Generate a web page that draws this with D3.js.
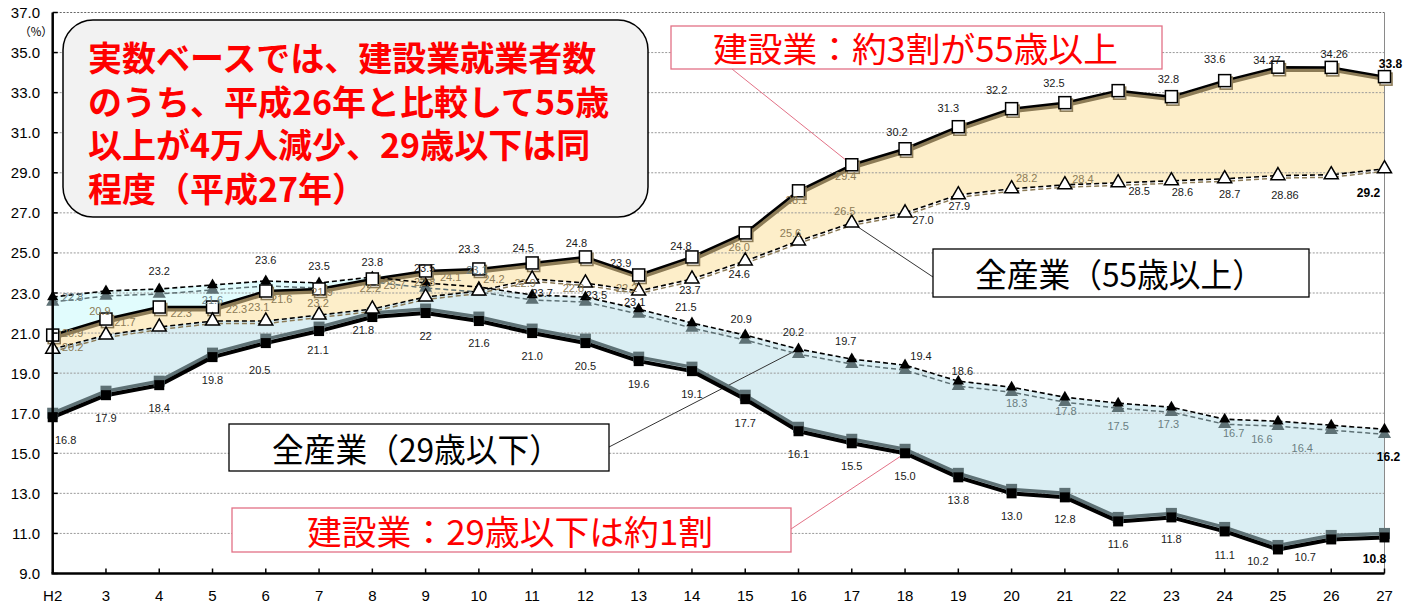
<!DOCTYPE html>
<html>
<head>
<meta charset="utf-8">
<script src="https://cdn.jsdelivr.net/npm/d3@7"></script>
<style>
  html, body { margin: 0; padding: 0; background: #ffffff; }
  svg { display: block; }
</style>
</head>
<body>
<svg id="chart" width="1413" height="606"></svg>
<script>
// ---- data --------------------------------------------------------------
// survey years (Heisei)
const years = ["H2","3","4","5","6","7","8","9","10","11","12","13","14",
               "15","16","17","18","19","20","21","22","23","24","25","26","27"];

// share of workers aged 55 and over, construction (%)
const cons55 = [20.9, 21.7, 22.3, 22.3, 23.1, 23.2, 23.7, 24.1, 24.2, 24.5, 24.8, 23.9, 24.8,
                26.0, 28.1, 29.4, 30.2, 31.3, 32.2, 32.5, 33.1, 32.8, 33.6, 34.27, 34.26, 33.8];

// share of workers aged 55 and over, all industries (%)
const all55  = [20.2, 20.9, 21.3, 21.6, 21.6, 21.9, 22.2, 22.8, 23.1, 23.7, 23.5, 23.1, 23.7,
                24.6, 25.6, 26.5, 27.0, 27.9, 28.2, 28.4, 28.5, 28.6, 28.7, 28.86, 28.9, 29.2];

// share of workers aged 29 and under, all industries (%)
const all29  = [22.8, 23.1, 23.2, 23.4, 23.6, 23.5, 23.8, 23.5, 23.3, 22.9, 22.8, 22.2, 21.5,
                20.9, 20.2, 19.7, 19.4, 18.6, 18.3, 17.8, 17.5, 17.3, 16.7, 16.6, 16.4, 16.2];

// share of workers aged 29 and under, construction (%)
const cons29 = [16.8, 17.9, 18.4, 19.8, 20.5, 21.1, 21.8, 22.0, 21.6, 21.0, 20.5, 19.6, 19.1,
                17.7, 16.1, 15.5, 15.0, 13.8, 13.0, 12.8, 11.6, 11.8, 11.1, 10.2, 10.7, 10.8];

const yTicks = [9, 11, 13, 15, 17, 19, 21, 23, 25, 27, 29, 31, 33, 35, 37];

const titleLines = ["実数ベースでは、建設業就業者数",
                    "のうち、平成26年と比較して55歳",
                    "以上が4万人減少、29歳以下は同",
                    "程度（平成27年）"];

// ---- value-label placement: [dx, dy, tone, decimals] ------------------
// tone: k = black, K = bold black, g = grey, b = tan
const cons55Lab = [
  [20,2,"b"],[19,7,"b"],[22,10,"b"],[24,6,"b"],[-7,20,"b"],[-1,18,"b"],[22,10,"b"],[25,10,"b"],[15,14,"b"],
  [-9,-11,"k"],[-9,-10,"k"],[-18,-8,"k"],[-11,-7,"k"],[-6,18,"b"],[-2,13,"b"],[-6,15,"b"],
  [-8,-13,"k"],[-10,-15,"k"],[-15,-15,"k"],[-11,-16,"k"],null,[-3,-14,"k"],[-10,-18,"k"],
  [-11,-3,"k"],[3,-9,"k"],[6,-9,"K"]
];
const all55Lab = [
  [20,2,"b"],[-6,-20,"b"],null,[0,-17,"g"],[16,-18,"b"],[3,-19,"b"],[-2,-17,"b"],[-1,-11,"b"],
  [-2,-17,"g"],[10,18,"k"],[11,16,"k"],[-4,15,"k"],[-2,15,"k"],[-6,17,"k"],[-8,-4,"b"],
  [-7,-8,"b"],[18,11,"k"],[1,15,"k"],[15,-7,"b"],[18,-2,"b"],[21,12,"k"],[11,15,"k"],
  [5,19,"k"],[7,23,"k"],null,[-16,28,"K"]
];
const all29Lab = [
  [20,4,"g"],null,[0,-14,"k"],null,[0,-17,"k"],[0,-13,"k"],[0,-11,"k"],[-1,-11,"k"],
  [-10,-34,"k"],[-7,-8,"b"],[-12,-5,"b"],[-12,-17,"b"],[-6,-12,"k"],[-4,-12,"k"],
  [-5,-13,"k"],[-6,-14,"k"],[16,-5,"k"],[4,-6,"k"],[5,20,"g"],[1,18,"g"],[0,27,"g"],
  [-3,21,"g"],[9,18,"g"],[-16,22,"g"],[-29,27,"g"],[4,32,"K"]
];
const cons29Lab = [
  [13,27,"k"],[0,27,"k"],[0,27,"k"],[0,27,"k"],[-6,31,"k"],[-1,23,"k"],[-9,17,"k"],[0,27,"k",0],
  [0,26,"k"],[0,27,"k"],[0,27,"k"],[0,27,"k"],[0,27,"k"],[0,28,"k"],[0,27,"k"],[0,27,"k"],
  [0,27,"k"],[0,27,"k"],[0,27,"k"],[0,26,"k"],[0,27,"k"],[0,26,"k"],[0,28,"k"],
  [-20,16,"k"],[-26,22,"k"],[-10,26,"K"]
];

// ---- scales ------------------------------------------------------------
const LEFT = 52.7, RIGHT = 1384.5, TOP = 12.5, BOTTOM = 573.5;
const x = d3.scalePoint().domain(years).range([LEFT, RIGHT]);
const y = d3.scaleLinear().domain([9, 37]).range([BOTTOM, TOP]);
const idx = d3.range(years.length);
const X = i => x(years[i]);

const svg = d3.select("#chart");
const NUM_FONT = "'Liberation Sans', Arial, sans-serif";
const JP_FONT = "'Noto Sans CJK JP', 'Noto Sans', sans-serif";

// ---- filled bands ------------------------------------------------------
svg.append("path").datum(idx)
  .attr("d", d3.area().x(X).y0(i => y(cons29[i])).y1(i => y(all29[i])))
  .attr("fill", "#DAEEF3");
svg.append("path").datum(idx)
  .attr("d", d3.area().x(X).y0(i => y(cons55[i])).y1(i => y(Math.max(all29[i], cons55[i]))))
  .attr("fill", "#E1FCFD");
svg.append("path").datum(idx)
  .attr("d", d3.area().x(X).y0(i => y(all55[i])).y1(i => y(cons55[i])))
  .attr("fill", "#FDEEC9");

// ---- grid and frame ----------------------------------------------------
svg.append("g").selectAll("line").data(yTicks.filter(t => t > 9)).join("line")
  .attr("x1", LEFT).attr("x2", RIGHT)
  .attr("y1", d => y(d)).attr("y2", d => y(d))
  .attr("stroke", d => d === 37 ? "#666" : "#999")
  .attr("stroke-width", 1)
  .attr("stroke-dasharray", "2,1.5");
svg.append("line")
  .attr("x1", RIGHT).attr("x2", RIGHT).attr("y1", TOP).attr("y2", BOTTOM)
  .attr("stroke", "#8a8a8a").attr("stroke-width", 1);

// ---- leader lines for the callouts -------------------------------------
const notes = [
  { text: "建設業：約3割が55歳以上", box: [671, 26, 491, 43], tx: 713, tw: 405, size: 34,
    fill: "#FF0000", stroke: "#E27186", series: cons55, at: 15, from: [732, 69] },
  { text: "建設業：29歳以下は約1割", box: [232, 508, 559, 44], tx: 307, tw: 406, size: 34,
    fill: "#FF0000", stroke: "#E27186", series: cons29, at: 16, from: [791, 529] },
  { text: "全産業（29歳以下）", box: [229, 424, 380, 47], tx: 272, tw: 289, size: 33,
    fill: "#000000", stroke: "#000000", series: all29, at: 14, from: [609, 447] },
  { text: "全産業（55歳以上）", box: [933, 249, 376, 48], tx: 975, tw: 289, size: 33,
    fill: "#000000", stroke: "#000000", series: all55, at: 15, from: [933, 277] }
];
svg.append("g").selectAll("line").data(notes).join("line")
  .attr("x1", d => d.from[0]).attr("y1", d => d.from[1])
  .attr("x2", d => X(d.at)).attr("y2", d => y(d.series[d.at]))
  .attr("stroke", d => d.fill === "#FF0000" ? "#E27186" : "#333")
  .attr("stroke-width", 1);

// ---- series lines (offset tinted copy underneath, then main line) ------
function drawLine(arr, opt) {
  svg.append("path").datum(idx)
    .attr("d", d3.line().x(X).y(i => y(arr[i])))
    .attr("transform", `translate(${opt.dx || 0},${opt.dy || 0})`)
    .attr("fill", "none")
    .attr("stroke", opt.color)
    .attr("stroke-width", opt.width)
    .attr("stroke-dasharray", opt.dash || null)
    .attr("stroke-linejoin", "round");
}
drawLine(cons29, { color: "#5E7175", width: 3.5, dy: -4 });
drawLine(all29,  { color: "#5E7175", width: 1.5, dy: 5, dash: "5,3" });
drawLine(cons55, { color: "#8C7B56", width: 4, dx: 1, dy: 2.5 });
drawLine(all55,  { color: "#8C7B56", width: 1.5, dy: 2.5, dash: "5,3" });

drawLine(cons29, { color: "#000", width: 4 });
drawLine(all29,  { color: "#000", width: 1.6, dash: "5,3" });
drawLine(cons55, { color: "#000", width: 2.5 });
drawLine(all55,  { color: "#000", width: 1.6, dash: "5,3" });

// ---- markers -----------------------------------------------------------
function squares(arr, opt) {
  svg.append("g").selectAll("rect").data(idx).join("rect")
    .attr("x", i => X(i) - opt.size / 2 + (opt.dx || 0))
    .attr("y", i => y(arr[i]) - opt.size / 2 + (opt.dy || 0))
    .attr("width", opt.size).attr("height", opt.size)
    .attr("fill", opt.fill)
    .attr("stroke", opt.stroke || "none")
    .attr("stroke-width", opt.sw || 0);
}
function triangles(arr, opt) {
  const sym = d3.symbol(d3.symbolTriangle, opt.area);
  svg.append("g").selectAll("path").data(idx).join("path")
    .attr("d", sym)
    .attr("transform", i => `translate(${X(i) + (opt.dx || 0)},${y(arr[i]) + (opt.dy || 0)})`)
    .attr("fill", opt.fill)
    .attr("stroke", opt.stroke || "none")
    .attr("stroke-width", opt.sw || 0);
}
// tinted copies
squares(cons29,   { size: 11, fill: "#5E7175", dy: -4 });
triangles(all29,  { area: 75, fill: "#5E7175", dy: 5 });
squares(cons55,   { size: 12, fill: "#fff", stroke: "#8C7B56", sw: 1.6, dx: 1.5, dy: 2.5 });
// main markers
squares(cons29,   { size: 10, fill: "#000" });
triangles(all29,  { area: 55, fill: "#000" });
squares(cons55,   { size: 12, fill: "#fff", stroke: "#000", sw: 1.5 });
triangles(all55,  { area: 85, fill: "#fff", stroke: "#000", sw: 1.5 });

// ---- value labels ------------------------------------------------------
const toneColor = { k: "#1a1a1a", K: "#000", g: "#6B7E82", b: "#8C7B56" };
function decimalsOf(v) {
  return Math.abs(v * 10 - Math.round(v * 10)) > 1e-6 ? 2 : 1;
}
function valueLabels(arr, layout) {
  const items = idx.filter(i => layout[i]);
  svg.append("g").selectAll("text").data(items).join("text")
    .attr("x", i => X(i) + layout[i][0])
    .attr("y", i => y(arr[i]) + layout[i][1])
    .attr("text-anchor", "middle")
    .attr("font-family", NUM_FONT)
    .attr("font-size", i => layout[i][2] === "K" ? 12 : 11)
    .attr("font-weight", i => layout[i][2] === "K" ? "bold" : "normal")
    .attr("fill", i => toneColor[layout[i][2]])
    .text(i => arr[i].toFixed(layout[i][3] !== undefined ? layout[i][3] : decimalsOf(arr[i])));
}
valueLabels(cons29, cons29Lab);
valueLabels(all29, all29Lab);
valueLabels(all55, all55Lab);
valueLabels(cons55, cons55Lab);

// ---- axes --------------------------------------------------------------
const yAxis = svg.append("g");
yAxis.append("line")
  .attr("x1", LEFT).attr("x2", LEFT).attr("y1", TOP).attr("y2", BOTTOM)
  .attr("stroke", "#000").attr("stroke-width", 2.5);
yAxis.selectAll("line.tick").data(yTicks).join("line").attr("class", "tick")
  .attr("x1", LEFT).attr("x2", LEFT + 5)
  .attr("y1", d => y(d)).attr("y2", d => y(d))
  .attr("stroke", "#000").attr("stroke-width", 1.5);
yAxis.selectAll("text").data(yTicks).join("text")
  .attr("x", 40).attr("y", d => y(d))
  .attr("text-anchor", "end").attr("dominant-baseline", "central")
  .attr("font-family", NUM_FONT).attr("font-size", 15).attr("fill", "#000")
  .text(d3.format(".1f"));
svg.append("text")
  .attr("x", 36).attr("y", 31)
  .attr("text-anchor", "middle").attr("dominant-baseline", "central")
  .attr("font-family", JP_FONT).attr("font-size", 11.5).attr("fill", "#000")
  .text("（%）");

const xAxis = svg.append("g");
xAxis.append("line")
  .attr("x1", LEFT - 1.25).attr("x2", RIGHT).attr("y1", BOTTOM).attr("y2", BOTTOM)
  .attr("stroke", "#000").attr("stroke-width", 2.5);
xAxis.selectAll("line.tick").data(years).join("line").attr("class", "tick")
  .attr("x1", d => x(d)).attr("x2", d => x(d))
  .attr("y1", BOTTOM).attr("y2", BOTTOM - 5)
  .attr("stroke", "#000").attr("stroke-width", 1.5);
xAxis.selectAll("text").data(years).join("text")
  .attr("x", d => x(d)).attr("y", 595)
  .attr("text-anchor", "middle").attr("dominant-baseline", "central")
  .attr("font-family", NUM_FONT).attr("font-size", 15).attr("fill", "#000")
  .text(d => d);

// ---- headline box (one text block, one line per tspan) ----------------
svg.append("rect")
  .attr("x", 63).attr("y", 20).attr("width", 585).attr("height", 197)
  .attr("rx", 30).attr("ry", 30)
  .attr("fill", "#F2F2F2").attr("stroke", "#000").attr("stroke-width", 1.5);
const headline = svg.append("text")
  .attr("font-family", JP_FONT).attr("font-size", 34).attr("font-weight", "bold")
  .attr("fill", "#FF0000");
headline.selectAll("tspan").data(titleLines).join("tspan")
  .attr("x", 88).attr("y", (d, i) => 71 + i * 43.5)
  .text(d => d);

// ---- callout boxes -----------------------------------------------------
const callouts = svg.append("g").selectAll("g").data(notes).join("g");
callouts.append("rect")
  .attr("x", d => d.box[0]).attr("y", d => d.box[1])
  .attr("width", d => d.box[2]).attr("height", d => d.box[3])
  .attr("fill", "#fff").attr("stroke", d => d.stroke).attr("stroke-width", 1.3);
callouts.append("text")
  .attr("x", d => d.tx).attr("y", d => d.box[1] + d.box[3] / 2)
  .attr("dominant-baseline", "central")
  .attr("font-family", JP_FONT).attr("font-size", d => d.size)
  .attr("textLength", d => d.tw).attr("lengthAdjust", "spacingAndGlyphs")
  .attr("fill", d => d.fill)
  .text(d => d.text);
</script>
</body>
</html>
